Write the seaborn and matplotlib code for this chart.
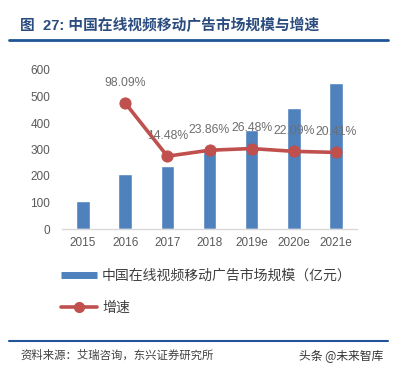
import matplotlib
matplotlib.use("Agg")
import matplotlib.pyplot as plt
import seaborn as sns
import numpy as np
from matplotlib.lines import Line2D

years = ["2015", "2016", "2017", "2018", "2019e", "2020e", "2021e"]
market_size = [106, 209, 239, 296, 375, 455, 550]
growth_years = ["2016", "2017", "2018", "2019e", "2020e", "2021e"]
growth = [98.09, 14.48, 23.86, 26.48, 22.09, 20.41]
y_ticks = [0, 100, 200, 300, 400, 500, 600]

title = "图  27: 中国在线视频移动广告市场规模与增速"
bar_label = "中国在线视频移动广告市场规模（亿元）"
line_label = "增速"
source = "资料来源：艾瑞咨询，东兴证券研究所"
watermark = "头条 @未来智库"

sns.set_style("white")
plt.rcParams["font.family"] = ["Liberation Sans", "Noto Sans CJK SC", "DejaVu Sans"]
cjk = ["Noto Sans CJK SC", "DejaVu Sans"]
title_fonts = ["Liberation Sans", "Noto Sans CJK SC", "DejaVu Sans"]

BLUE = "#4F81BD"
RED = "#C0504D"
GREY = "#595959"

fig = plt.figure(figsize=(3.93, 3.71), dpi=100)
ax = fig.add_axes([62 / 393, 1 - 229 / 371, 295 / 393, 159 / 371])

sns.barplot(x=years, y=market_size, color=BLUE, width=0.32, saturation=1, ax=ax)
ax.set_ylim(0, 600)
ax.set_xlim(-0.5, 6.5)
ax.set_yticks(y_ticks)
ax.set_xlabel("")
ax.set_ylabel("")
ax.tick_params(axis="both", length=0, labelsize=8.5, colors=GREY)
ax.tick_params(axis="y", pad=8.5)
ax.tick_params(axis="x", pad=6)
for s in ["top", "right", "left"]:
    ax.spines[s].set_visible(False)
ax.spines["bottom"].set_color("#D9D9D9")
ax.spines["bottom"].set_linewidth(1)

ax2 = ax.twinx()
pos = [years.index(y) for y in growth_years]
sns.lineplot(x=pos, y=growth, color=RED, lw=2.6, marker="o", markersize=8,
             markeredgecolor=RED, ax=ax2)
ax2.set_ylim(-100, 150)
ax2.set_xlim(-0.5, 6.5)
ax2.axis("off")
for x, g in zip(pos, growth):
    ax2.annotate(f"{g:.2f}%", (x, g), xytext=(0, 14.5), textcoords="offset points",
                 ha="center", va="center", fontsize=8.8, color="#6E6E6E")

# title and rules
fig.text(20 / 393, 1 - 25 / 371, title, family=title_fonts, fontsize=10.6, fontweight="bold",
         color="#2B4C7E", ha="left", va="center")
fig.add_artist(Line2D([9 / 393, 388 / 393], [1 - 40 / 371] * 2, color="#1F5496", lw=2))
fig.add_artist(Line2D([9 / 393, 388 / 393], [1 - 341 / 371] * 2, color="#1F5496", lw=1.5))

handles = [Line2D([], [], color=BLUE, lw=5, solid_capstyle="butt"),
           Line2D([], [], color=RED, lw=2.6, marker="o", markersize=7)]
leg = fig.legend(handles, [bar_label, line_label], loc="upper left",
                 bbox_to_anchor=(61 / 393, 1 - 269 / 371), frameon=False,
                 prop={"family": cjk, "size": 10}, handlelength=2.6,
                 handletextpad=0.35, labelspacing=1.25, borderpad=0, borderaxespad=0)
for t in leg.get_texts():
    t.set_color("#404040")

fig.text(20 / 393, 1 - 355 / 371, source, family=cjk, fontsize=8.2, color="#404040",
         ha="left", va="center", style="italic")
fig.text(383 / 393, 1 - 357 / 371, watermark, family=cjk, fontsize=8.5, color="#333333",
         ha="right", va="center")

fig.savefig("out.png", dpi=100)
